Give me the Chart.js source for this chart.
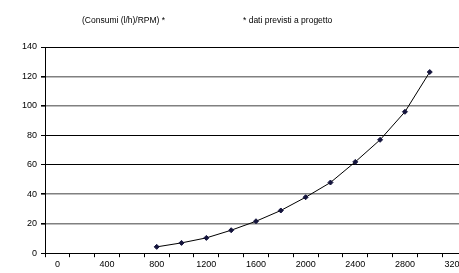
<!DOCTYPE html>
<html>
<head>
<meta charset="utf-8">
<script src="https://cdn.jsdelivr.net/npm/chart.js@4/dist/chart.umd.min.js"></script>
<style>
  html, body { margin: 0; padding: 0; background: #fff; overflow: hidden; }
  #wrap { position: relative; width: 459px; height: 273px; overflow: hidden; }
  #chart { position: absolute; left: 0; top: 0; }
  .note { position: absolute; top: 15px; font: 8.5px "Liberation Sans", Arial, sans-serif; color: #000; white-space: nowrap; }
</style>
</head>
<body>
<div id="wrap">
  <canvas id="chart" width="480" height="273"></canvas>
  <div class="note" style="left:82px">(Consumi (l/h)/RPM) *</div>
  <div class="note" style="left:243px">* dati previsti a progetto</div>
</div>
<script>
// giri motore (RPM) e consumi (l/h)
const rpm = [800, 1000, 1200, 1400, 1600, 1800, 2000, 2200, 2400, 2600, 2800, 3000];
const consumi = [4.3, 7, 10.4, 15.6, 21.7, 29, 38, 48, 62, 77, 96, 123];

const xTicks = [];
for (let v = -100; v <= 3300; v += 100) xTicks.push(v);
const yTicks = [0, 20, 40, 60, 80, 100, 120, 140];
const greyLines = [20, 40, 100, 120];

const font = { family: '"Liberation Sans", Arial, sans-serif', size: 9 };

const ctx = document.getElementById('chart').getContext('2d');
const chart = new Chart(ctx, {
  type: 'scatter',
  data: {
    datasets: [{
      data: rpm.map((r, i) => ({ x: r, y: consumi[i] })),
      showLine: true,
      borderColor: '#000',
      borderWidth: 1,
      backgroundColor: '#14143c',
      pointBackgroundColor: '#14143c',
      pointBorderColor: '#14143c',
      pointStyle: 'rectRot',
      pointRadius: 2.5,
      pointBorderWidth: 1
    }]
  },
  options: {
    responsive: false,
    animation: false,
    devicePixelRatio: 1,
    layout: { padding: { left: 0, right: 13, top: 47, bottom: 1 } },
    plugins: { legend: { display: false }, tooltip: { enabled: false } },
    scales: {
      x: {
        type: 'linear',
        min: -100,
        max: 3300,
        afterBuildTicks: s => { s.ticks = xTicks.map(v => ({ value: v })); },
        ticks: {
          autoSkip: false,
          maxRotation: 0,
          color: '#000',
          font: font,
          padding: 2,
          callback: v => (v >= 0 && v % 400 === 0) ? String(v) : ''
        },
        grid: {
          drawOnChartArea: false,
          drawTicks: true,
          tickLength: 4,
          tickColor: c => (((c.tick && c.tick.value) % 200 + 200) % 200 === 100) ? '#000' : 'rgba(0,0,0,0)'
        },
        border: { display: true, color: '#000', width: 1 }
      },
      y: {
        min: 0,
        max: 140,
        afterBuildTicks: s => { s.ticks = yTicks.map(v => ({ value: v })); },
        afterFit: s => { s.width = 45; },
        ticks: { color: '#000', font: font, padding: 4, autoSkip: false },
        grid: {
          color: c => greyLines.includes(c.tick && c.tick.value) ? '#808080' : '#000',
          lineWidth: c => greyLines.includes(c.tick && c.tick.value) ? 1.6 : 1,
          tickColor: '#000',
          tickLength: 4
        },
        border: { display: true, color: '#000', width: 1 }
      }
    }
  }
});
</script>
</body>
</html>
